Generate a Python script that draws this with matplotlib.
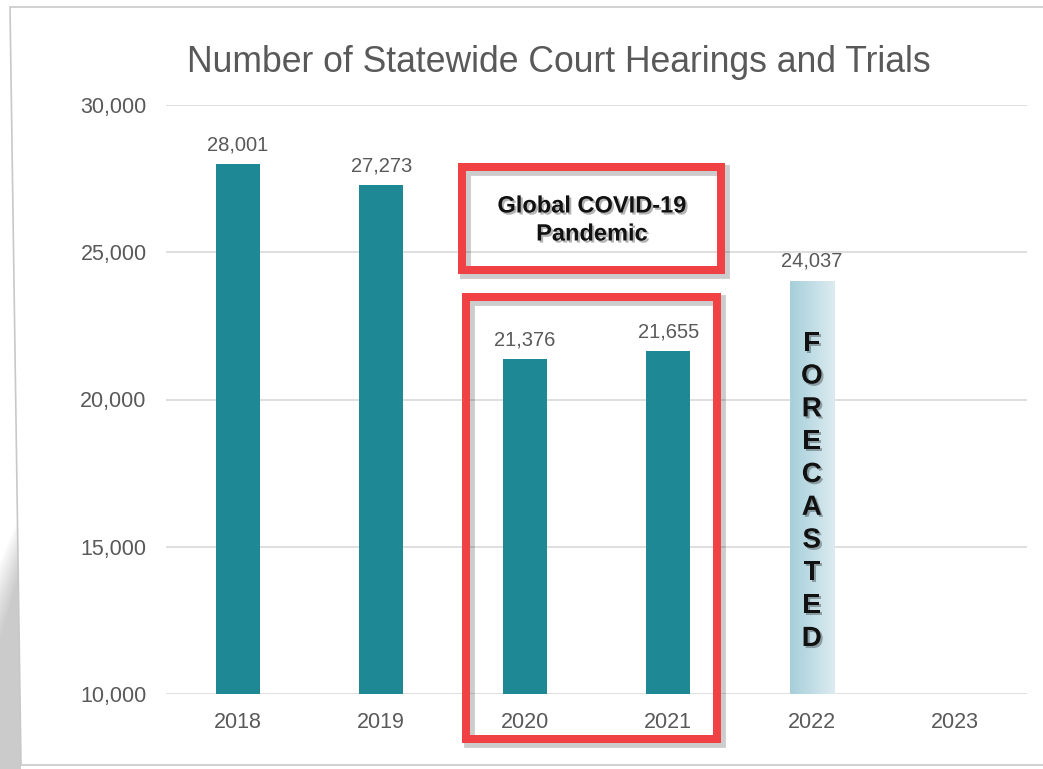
import matplotlib
matplotlib.use("Agg")
import matplotlib.pyplot as plt
import numpy as np
from matplotlib.patches import Rectangle, Polygon
from matplotlib.colors import LinearSegmentedColormap
import matplotlib.patheffects as pe

plt.rcParams['font.family'] = ['Liberation Sans', 'DejaVu Sans']

years = ["2018", "2019", "2020", "2021", "2022", "2023"]
actual = [28001, 27273, 21376, 21655]
forecast_year = "2022"
forecast_value = 24037
yticks = [10000, 15000, 20000, 25000, 30000]
title = "Number of Statewide Court Hearings and Trials"
covid_label = "Global COVID-19\nPandemic"
forecast_word = "FORECASTED"

W, H = 1043, 769
fig = plt.figure(figsize=(W / 100, H / 100), dpi=100)
fig.patch.set_facecolor("white")

def fx(px):
    return px / W

def fy(py):
    return 1 - py / H

# card shadow on left / frame
for i in range(14):
    fig.patches.append(Polygon([(fx(0), fy(770)), (fx(0), fy(640 - i * 6)), (fx(21), fy(565 - i * 4)), (fx(21), fy(770))],
                               closed=True, transform=fig.transFigure, facecolor="#9a9a9a", alpha=0.045,
                               edgecolor="none", zorder=-3))
fig.patches.append(Polygon([(fx(10), fy(7)), (fx(W + 5), fy(7)), (fx(W + 5), fy(765)), (fx(21), fy(765))],
                           closed=True, transform=fig.transFigure, facecolor="white", edgecolor="#c8c8c8",
                           linewidth=1.2, zorder=-2))

ax = fig.add_axes([fx(166), fy(694), fx(1027) - fx(166), fy(105) - fy(694)])
ax.set_facecolor("none")
x = np.arange(len(years))
bar_w = 0.31
teal = "#1E8895"

ax.bar(x[:len(actual)], actual, width=bar_w, color=teal, zorder=3)
fi = years.index(forecast_year)
fbar = ax.bar([x[fi]], [forecast_value], width=bar_w, color="#bcdbe3", zorder=3)[0]

# gradient on forecast bar
grad = np.linspace(0, 1, 100).reshape(1, -1)
cmap = LinearSegmentedColormap.from_list("fc", ["#a6cfda", "#dcebf0"])
im = ax.imshow(grad, extent=[x[fi] - bar_w / 2, x[fi] + bar_w / 2, 10000, forecast_value],
               aspect="auto", cmap=cmap, zorder=4)
im.set_clip_path(fbar)
ax.set_xlim(-0.5, len(years) - 0.5)
ax.set_ylim(10000, 30000)

ax.set_yticks(yticks)
ax.set_yticklabels([f"{v:,}" for v in yticks])
ax.set_xticks(x)
ax.set_xticklabels(years)
ax.tick_params(axis="both", length=0, labelsize=15.5, colors="#595959")
ax.tick_params(axis="y", pad=14)
ax.tick_params(axis="x", pad=13)
ax.grid(axis="y", color="#d9d9d9", linewidth=1.2, zorder=0)
for s in ax.spines.values():
    s.set_visible(False)

for xi, v in zip(x[:len(actual)], actual):
    ax.text(xi, v + 330, f"{v:,}", ha="center", va="bottom", fontsize=14.5, color="#595959", zorder=5)
ax.text(x[fi], forecast_value + 330, f"{forecast_value:,}", ha="center", va="bottom", fontsize=14.5,
        color="#595959", zorder=5)

ax.text(x[fi], 16880, "\n".join(forecast_word), ha="center", va="center", fontsize=20,
        fontweight="bold", color="#111111", linespacing=1.34, zorder=6,
        path_effects=[pe.withSimplePatchShadow(offset=(1.5, -1.5), alpha=0.3)])

fig.text(fx(559), fy(63), title, ha="center", va="center", fontsize=25.6, color="#595959")

# red boxes
red = "#F04245"
def red_box(x0, y0, x1, y1, lw_px=8):
    inset = lw_px / 2
    X0, Y0, X1, Y1 = x0 + inset, y0 + inset, x1 - inset, y1 - inset
    sh = Rectangle((fx(X0 + 3), fy(Y1 + 3)), fx(X1) - fx(X0), fy(Y0) - fy(Y1), transform=fig.transFigure,
                   fill=False, edgecolor="black", alpha=0.2, linewidth=lw_px * 0.72 + 2, zorder=9)
    r = Rectangle((fx(X0), fy(Y1)), fx(X1) - fx(X0), fy(Y0) - fy(Y1), transform=fig.transFigure,
                  fill=False, edgecolor=red, linewidth=lw_px * 0.72, zorder=10, joinstyle="miter")
    fig.patches.append(sh)
    fig.patches.append(r)

red_box(458, 163, 725, 274)
red_box(462, 293, 721, 743)

fig.text(fx(592), fy(220), covid_label, ha="center", va="center", fontsize=17, fontweight="bold",
         color="#111111", linespacing=1.28, zorder=11,
         path_effects=[pe.withSimplePatchShadow(offset=(1.5, -1.5), alpha=0.3)])

fig.savefig("out.png", dpi=100)
